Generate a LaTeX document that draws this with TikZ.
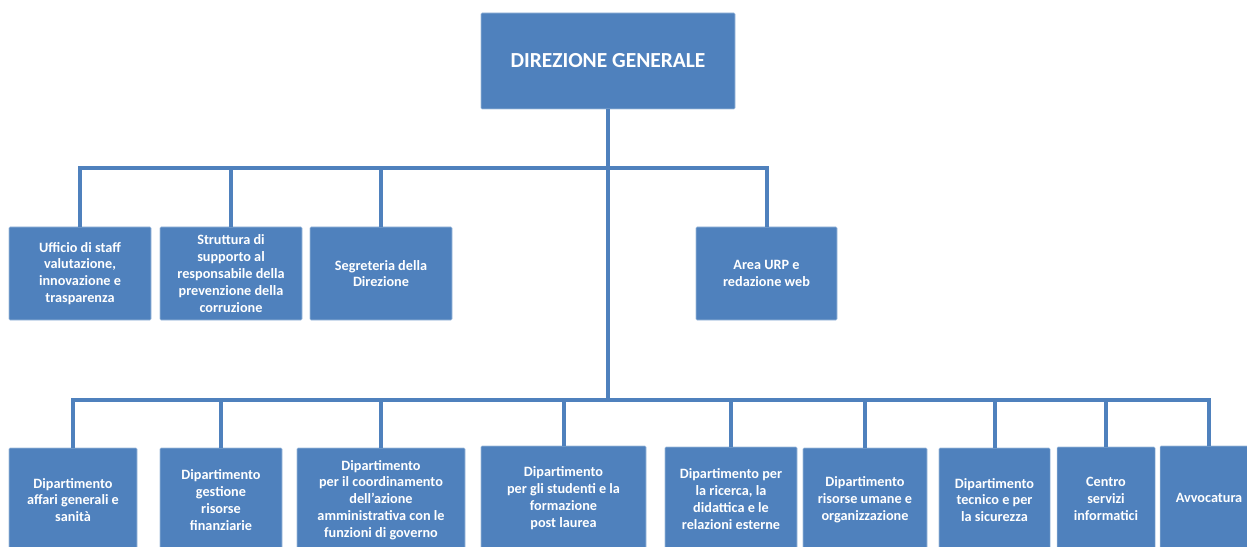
\documentclass[tikz,border=0pt]{standalone}
\usepackage{fontspec}
\setmainfont{Carlito}
\usetikzlibrary{positioning}
\definecolor{unitblue}{HTML}{4F81BD}
\newcommand\pxl{0.02cm}
\tikzset{%
   unit/.style={
      draw=unitblue!55!white,
      line width=0.3pt,
      fill=unitblue,
      rounded corners=0.6pt,
      text=white,
      align=center,
      inner sep=0pt,
      font=\fontsize{8.1}{9.6}\selectfont\bfseries
   },
   staff/.style={
      unit,
      minimum width=142*\pxl,
      minimum height=93*\pxl
   },
   dept/.style={
      unit,
      minimum height=104*\pxl
   },
   head/.style={
      unit,
      minimum width=254*\pxl,
      minimum height=96*\pxl,
      font=\fontsize{12.2}{14}\selectfont\bfseries
   },
   link/.style={
      draw=unitblue,
      line width=4*\pxl
   },
}

\begin{document}
\begin{tikzpicture}[x=\pxl, y=-\pxl]
      \useasboundingbox (0,0) rectangle (1247,547);
      \clip (0,0) rectangle (1247,547);
      % top
      \node[head] (dg) at (608,61) {DIREZIONE GENERALE};
      % staff row
      \node[staff] (s1) at (80,273.5) {Ufficio di staff\\valutazione,\\innovazione e\\trasparenza};
      \node[staff] (s2) at (231,273.5) {Struttura di\\supporto al\\responsabile della\\prevenzione della\\corruzione};
      \node[staff] (s3) at (381,273.5) {Segreteria della\\Direzione};
      \node[staff, minimum width=141*\pxl] (s4) at (766.5,273.5) {Area URP e\\redazione web};
      % departments
      \node[dept, minimum width=128*\pxl] (b1) at (73,500) {Dipartimento\\affari generali e\\sanità};
      \node[dept, minimum width=122*\pxl] (b2) at (221,500) {Dipartimento\\gestione\\risorse\\finanziarie};
      \node[dept, minimum width=168*\pxl] (b3) at (381,500) {Dipartimento\\per il coordinamento\\dell’azione\\amministrativa con le\\funzioni di governo};
      \node[dept, minimum width=165*\pxl] (b4) at (563.5,498) {Dipartimento\\per gli studenti e la\\formazione\\post laurea};
      \node[dept, minimum width=132*\pxl] (b5) at (731,499) {Dipartimento per\\la ricerca, la\\didattica e le\\relazioni esterne};
      \node[dept, minimum width=124*\pxl] (b6) at (865,500) {Dipartimento\\risorse umane e\\organizzazione};
      \node[dept, minimum width=111*\pxl] (b7) at (994.5,500) {Dipartimento\\tecnico e per\\la sicurezza};
      \node[dept, minimum width=98*\pxl] (b8) at (1106,499) {Centro\\servizi\\informatici};
      \node[dept, minimum width=98*\pxl] (b9) at (1209,498) {Avvocatura};
      % connectors
      \coordinate (j1) at (608,168);
      \coordinate (j2) at (608,400);
      \path[link] (dg) -- (j2);
      \foreach \n in {s1,s2,s3,s4}
         \path[link] (j1) -| (\n);
      \foreach \n in {b1,b2,b3,b4,b5,b6,b7,b8,b9}
         \path[link] (j2) -| (\n);
\end{tikzpicture}
\end{document}
